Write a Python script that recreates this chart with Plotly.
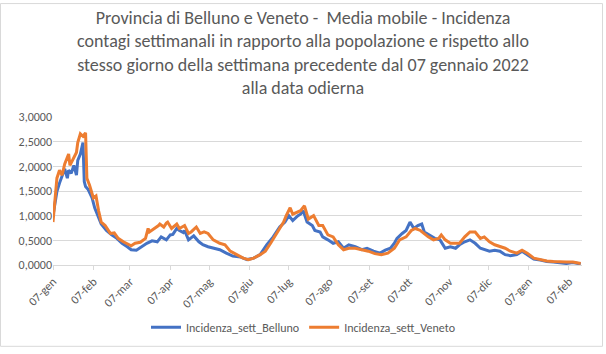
import pandas as pd
import plotly.graph_objects as go

# ---- data ----
start_date = "2022-01-07"

giorni_belluno = [0,3,5,8,9,11,12,14,16,18,19,21,23,24,25,27,30,32,35,37,41,45,49,53,57,60,64,68,72,76,
                  80,83,87,90,92,95,97,100,101,104,108,112,115,119,123,128,133,138,144,149,154,159,164,169,174,178,181,184,188,190,
                  192,195,199,201,205,207,211,215,219,223,227,232,237,241,246,251,255,259,262,264,268,271,274,277,280,283,285,289,293,297,
                  301,305,309,312,316,320,324,328,331,335,339,343,347,351,356,360,364,369,374,379,384,389,394,399,405]
incidenza_belluno = [1.00,1.49,1.66,1.86,1.95,1.76,1.92,1.86,2.02,1.82,2.12,2.25,2.48,1.69,1.59,1.53,1.36,1.16,0.97,0.83,
                     0.70,0.61,0.54,0.44,0.37,0.31,0.30,0.37,0.44,0.49,0.47,0.57,0.51,0.61,0.62,0.74,0.70,0.66,0.70,0.51,
                     0.59,0.47,0.41,0.37,0.34,0.31,0.24,0.18,0.16,0.11,0.14,0.21,0.41,0.57,0.77,0.87,1.00,0.90,1.00,1.03,
                     1.10,0.87,0.80,0.70,0.67,0.57,0.51,0.44,0.47,0.34,0.41,0.37,0.31,0.34,0.28,0.24,0.30,0.34,0.44,0.54,
                     0.64,0.70,0.87,0.74,0.80,0.83,0.67,0.61,0.54,0.51,0.34,0.37,0.34,0.41,0.47,0.51,0.44,0.34,0.31,0.28,
                     0.30,0.28,0.21,0.19,0.21,0.28,0.21,0.12,0.10,0.07,0.06,0.05,0.03,0.05,0.02]

giorni_veneto = [0,3,5,7,9,10,12,13,16,18,19,21,23,25,26,28,31,33,35,37,40,44,47,50,54,58,60,63,67,71,
                 73,74,77,81,82,85,87,88,91,95,97,101,104,106,110,113,116,119,123,128,132,136,141,146,150,154,159,163,167,172,
                 177,179,182,184,188,190,193,196,200,204,207,211,215,219,223,227,232,237,242,247,252,257,262,266,271,275,278,282,285,288,
                 292,296,298,301,305,308,312,316,320,324,328,331,335,339,343,347,351,356,360,364,369,374,379,384,389,394,399,405]
incidenza_veneto = [0.87,1.76,1.92,1.82,2.05,2.12,2.25,2.02,2.18,2.28,2.48,2.66,2.61,2.68,1.76,1.62,1.36,1.40,1.10,0.87,
                    0.80,0.64,0.65,0.54,0.47,0.41,0.39,0.44,0.46,0.54,0.74,0.67,0.72,0.80,0.83,0.77,0.85,0.87,0.74,0.83,
                    0.74,0.80,0.64,0.67,0.77,0.64,0.67,0.64,0.51,0.44,0.41,0.28,0.21,0.14,0.11,0.14,0.21,0.28,0.44,0.67,
                    0.87,1.00,1.16,1.03,1.07,1.10,1.20,0.93,1.00,0.80,0.80,0.61,0.57,0.41,0.31,0.34,0.34,0.31,0.28,0.23,
                    0.21,0.24,0.34,0.51,0.57,0.70,0.74,0.70,0.64,0.57,0.51,0.54,0.61,0.51,0.44,0.44,0.44,0.57,0.67,0.67,
                    0.54,0.57,0.47,0.41,0.37,0.34,0.28,0.24,0.30,0.24,0.14,0.11,0.08,0.07,0.06,0.06,0.06,0.03]

tick_labels = ["07-gen","07-feb","07-mar","07-apr","07-mag","07-giu","07-lug",
               "07-ago","07-set","07-ott","07-nov","07-dic","07-gen","07-feb"]
y_ticks = [0, 0.5, 1.0, 1.5, 2.0, 2.5, 3.0]

title_text = ("Provincia di Belluno e Veneto -  Media mobile - Incidenza<br>"
              "contagi settimanali in rapporto alla popolazione e rispetto allo<br>"
              "stesso giorno della settimana precedente dal 07 gennaio 2022<br>"
              "alla data odierna")

# ---- build ----
t0 = pd.Timestamp(start_date)
x_b = t0 + pd.to_timedelta(giorni_belluno, unit="D")
x_v = t0 + pd.to_timedelta(giorni_veneto, unit="D")
tick_vals = pd.date_range(start_date, periods=len(tick_labels), freq=pd.DateOffset(months=1))

FONT = "Carlito, 'Liberation Sans Narrow', Lato, 'Open Sans', sans-serif"
GREY = "#595959"

W, H = 606, 354
ml, mr, mt, mb = 53, 24, 117, 85
pw, ph = W - ml - mr, H - mt - mb

fig = go.Figure()
fig.add_trace(go.Scatter(x=x_b, y=incidenza_belluno, mode="lines", name="Incidenza_sett_Belluno",
                         line=dict(color="#4472C4", width=3)))
fig.add_trace(go.Scatter(x=x_v, y=incidenza_veneto, mode="lines", name="Incidenza_sett_Veneto",
                         line=dict(color="#ED7D31", width=3)))

def px_x(p):
    return (p - ml) / pw

def px_y(p):
    return (H - mb - p) / ph

fig.update_layout(
    width=W, height=H,
    margin=dict(l=ml, r=mr, t=mt, b=mb),
    paper_bgcolor="white", plot_bgcolor="white",
    separators=",.",
    font=dict(family=FONT, color=GREY, size=12),
    title=dict(text=title_text, x=0.5, xref="container", xanchor="center",
               y=1 - 24 / H, yref="container", yanchor="top",
               font=dict(family=FONT, size=18, color=GREY)),
    xaxis=dict(range=[t0, t0 + pd.Timedelta(days=406)], tickvals=tick_vals, ticktext=tick_labels,
               tickangle=-45, showgrid=False, showline=True, linecolor="#D9D9D9", linewidth=1,
               ticks="outside", ticklen=4, tickcolor="#D9D9D9", zeroline=False,
               tickfont=dict(size=12, color=GREY)),
    yaxis=dict(range=[0, 3.0], tickvals=y_ticks, tickformat=".4f", showgrid=True,
               gridcolor="#D9D9D9", gridwidth=1, zeroline=False, showline=False,
               ticks="", tickfont=dict(size=12, color=GREY)),
    legend=dict(orientation="h", x=px_x(303), xanchor="center", y=px_y(333), yanchor="middle",
                font=dict(size=12, color=GREY), bgcolor="rgba(0,0,0,0)"),
    showlegend=True,
)

fig.add_shape(type="rect", xref="paper", yref="paper",
              x0=px_x(0.5), x1=px_x(602.5), y0=px_y(352.5), y1=px_y(0.5),
              line=dict(color="#D9D9D9", width=1), fillcolor="rgba(0,0,0,0)", layer="below")

fig.write_html("out.html")
